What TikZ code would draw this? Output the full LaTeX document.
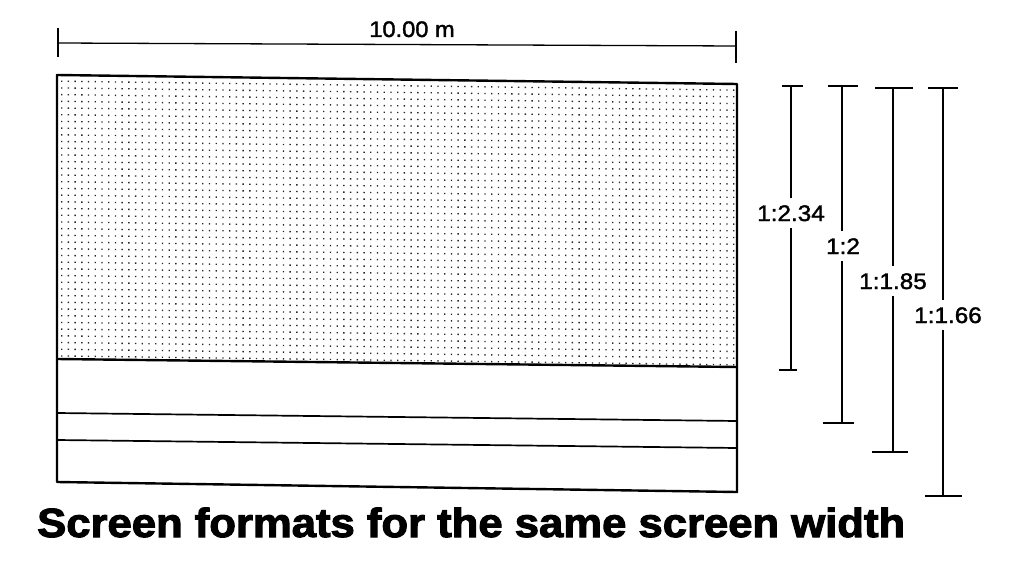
\documentclass[tikz,border=0pt]{standalone}
\usepackage{fontspec}
\setmainfont{Liberation Sans}
\newfontfamily\labfont[FakeBold=1.6]{Liberation Sans}
\newfontfamily\capfont[FakeBold=2.5]{Liberation Sans Bold}
\usepackage{graphicx}
\begin{document}
\begin{tikzpicture}[x=1pt,y=-1pt,
  frame/.style={line width=2.4pt, line cap=round, line join=round},
  band/.style={line width=1.7pt},
  dimline/.style={line width=1.3pt},
  lab/.style={anchor=base, inner xsep=0pt, inner ysep=7pt, font=\labfont\fontsize{22.5}{22.5}\selectfont},
  dotc/.style={fill=black!85}]
\useasboundingbox (0,0) rectangle (1024,564);

% top dimension
\coordinate (tl) at (58,43);
\coordinate (tr) at (736,46);
\draw[dimline] (58,28) -- (58,57);
\draw[dimline] (736,31) -- (736,63);
\draw[dimline] (tl) -- (tr);
\node[lab, inner ysep=0pt] (w) at (412,37) {\scalebox{1.05}[1]{10.00 m}};

% screen (slight scan skew: horizontal edges fall to the right)
\foreach \i in {0,...,100} {
  \pgfmathsetmacro{\xx}{61+\i*6.72}
  \pgfmathsetmacro{\dy}{(\xx-57)*9/680}
  \fill[dotc] \foreach \j in {0,...,41} {(\xx,80.5+\dy+\j*6.7) rectangle ++(1.35,1.35)};
}
\coordinate (s1) at (57,75);  \coordinate (s2) at (737,84);
\coordinate (s3) at (737,492); \coordinate (s4) at (57,482);
\draw[frame] (s1) -- (s2) -- (s3) -- (s4) -- cycle;
\draw[line width=2.4pt] (57,359) -- (737,367);
\draw[band] (57,413) -- (737,421);
\draw[band] (57,440) -- (737,448);

% right dimensions
\foreach \n/\x/\yt/\tl/\tr/\yb/\bl/\br/\lx/\ly/\txt in {
  1/791/86/782/803/370/779/797/791/221/1:2.34,
  2/842/86/828/858/423/823/854/843/254/1:2,
  3/893/88/875/913/452/872/908/893/289/1:1.85,
  4/943/88/928/958/496/925/962/948/323/1:1.66}{
  \coordinate (t\n) at (\x,\yt);
  \coordinate (b\n) at (\x,\yb);
  \draw[dimline] (\tl,\yt) -- (\tr,\yt);
  \draw[dimline] (\bl,\yb) -- (\br,\yb);
  \node[lab] (r\n) at (\lx,\ly) {\scalebox{1.08}[1]{\txt}};
  \draw[dimline] (t\n) -- (r\n.north -| t\n);
  \draw[dimline] (r\n.south -| b\n) -- (b\n);
}

% caption
\node[anchor=base west, inner sep=0pt] (cap) at (37,537)
  {\resizebox{868pt}{29.5pt}{\capfont Screen formats for the same screen width}};
\end{tikzpicture}
\end{document}
